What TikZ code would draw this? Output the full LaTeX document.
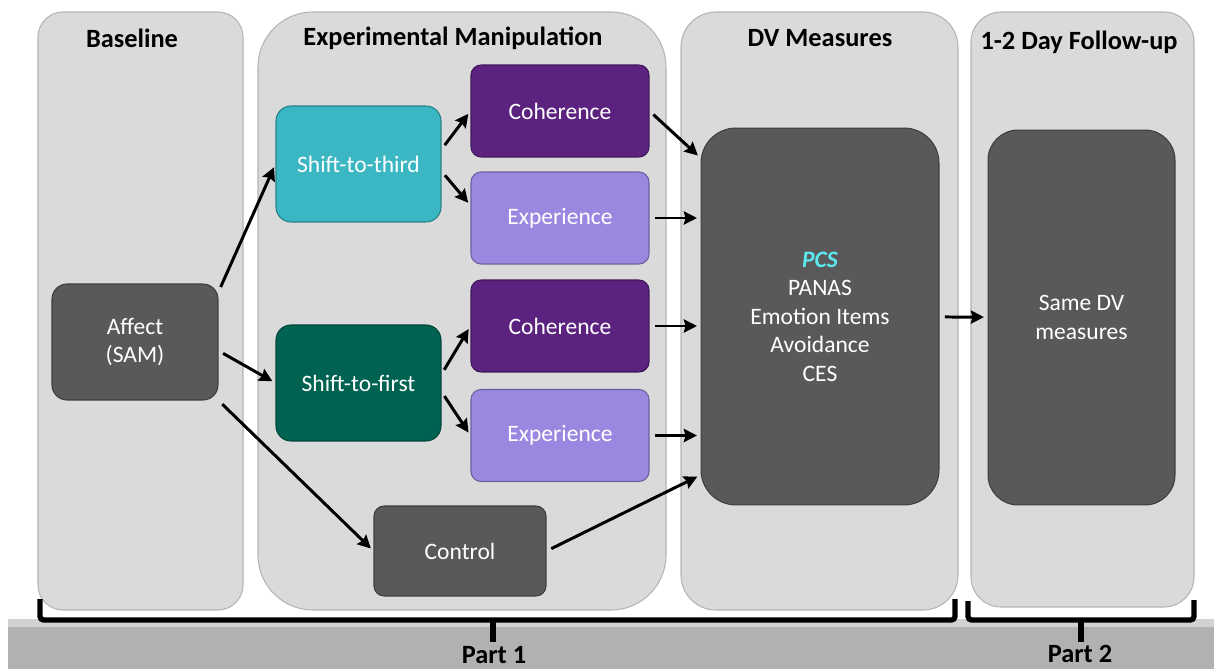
\documentclass[tikz,border=0pt]{standalone}
\usepackage{fontspec}
\setmainfont{Carlito}
\usetikzlibrary{arrows.meta,calc}
\tikzset {>={Stealth[length=7.5pt,width=7.5pt,inset=1pt]}}
\definecolor{panelgray}{HTML}{DADADA}
\definecolor{paneledge}{HTML}{B4B4B4}
\definecolor{boxgray}{HTML}{595959}
\definecolor{tealbox}{HTML}{3BB6C3}
\definecolor{greenbox}{HTML}{006352}
\definecolor{purplebox}{HTML}{5B237F}
\definecolor{lavbox}{HTML}{9A88E0}
\definecolor{pcscyan}{HTML}{5DE8F0}
\definecolor{bandgray}{HTML}{B1B1B1}
\definecolor{bandlight}{HTML}{D2D2D2}
\tikzset{
  panel/.style={fill=panelgray,draw=paneledge,line width=.6pt},
  box/.style={draw=#1!70!black,fill=#1,text=white,rounded corners=.3cm,align=center,
    line width=.6pt,inner sep=0pt,font=\fontsize{13.4}{16.2}\selectfont},
  head/.style={font=\fontsize{15}{18}\selectfont\bfseries},
  flow/.style={->,line width=1.7pt,shorten <=3pt,shorten >=2pt},
  brace/.style={line width=3pt,rounded corners=2pt}
}

\begin{document}
\begin{tikzpicture}[x=.02cm,y=-.02cm]
\useasboundingbox (0,0) rectangle (1214,669);
% bottom band
\fill[bandlight] (8,619) rectangle (1214,669);
\fill[bandgray] (8,627) rectangle (1214,669);
% columns
\foreach \xa/\xb/\yb/\r in {38/243/610/.5cm,258/666/610/1.1cm,681/958/610/.7cm,971/1194/607/.6cm}
  \draw[panel,rounded corners=\r] (\xa,12) rectangle (\xb,\yb);
\node[head] (hbase) at (132,38) {Baseline};
\node[head] (hmanip) at (453,38) {Experimental Manipulation};
\node[head] (hdv) at (820,38) {DV Measures};
\node[head] (hfollow) at (1079,42) {1-2 Day Follow-up};

% boxes
\node[box=boxgray,minimum width=3.32cm,minimum height=2.32cm] (affect) at (135,342) {Affect\\(SAM)};
\node[box=tealbox,minimum width=3.3cm,minimum height=2.32cm] (third) at (358.5,164) {Shift-to-third};
\node[box=greenbox,minimum width=3.3cm,minimum height=2.32cm] (first) at (358.5,383) {Shift-to-first};
\node[box=purplebox,rounded corners=.2cm,minimum width=3.56cm,minimum height=1.84cm] (coh1) at (560,111) {Coherence};
\node[box=lavbox,rounded corners=.2cm,minimum width=3.56cm,minimum height=1.84cm] (exp1) at (560,218) {Experience};
\node[box=purplebox,rounded corners=.2cm,minimum width=3.56cm,minimum height=1.84cm] (coh2) at (560,326) {Coherence};
\node[box=lavbox,rounded corners=.2cm,minimum width=3.56cm,minimum height=1.84cm] (exp2) at (560,435.5) {Experience};
\node[box=boxgray,rounded corners=.2cm,minimum width=3.44cm,minimum height=1.8cm] (control) at (460,551) {Control};
\node[box=boxgray,rounded corners=.7cm,minimum width=4.76cm,minimum height=7.54cm] (dv) at (820,316.5)
  {{\color{pcscyan}\bfseries\itshape PCS}\\PANAS\\Emotion Items\\Avoidance\\CES};
\node[box=boxgray,rounded corners=.6cm,minimum width=3.74cm,minimum height=7.5cm] (same) at (1081.5,317.5) {Same DV\\measures};

% arrows
\draw[flow] (affect.31) -- (third.west);
\draw[flow] (affect.-6) -- (first.west);
\draw[flow] (affect.south east) -- (control.west);
\draw[flow] (third.10) -- (coh1.west);
\draw[flow] (third.-5) -- (exp1.172);
\draw[flow] (first.6) -- (coh2.west);
\draw[flow] (first.-6) -- (exp2.west);
\draw[flow] (coh1.east) -- (dv.127);
\foreach \n in {exp1,coh2,exp2}
  \draw[flow] (\n.east) -- (\n.east -| dv.west);
\draw[flow] (control.east) -- (dv.233);
\draw[flow] (dv) -- (same);

% braces
\draw[brace] (40,599) |- (955,620) -- (955,599);
\draw[brace] (493,620) -- (493,642);
\draw[brace] (968,601) |- (1194,620) -- (1194,600);
\draw[brace] (1081,620) -- (1081,642);
\node[head] (part1) at (494,655) {Part 1};
\node[head] (part2) at (1080,654) {Part 2};
\end{tikzpicture}
\end{document}
